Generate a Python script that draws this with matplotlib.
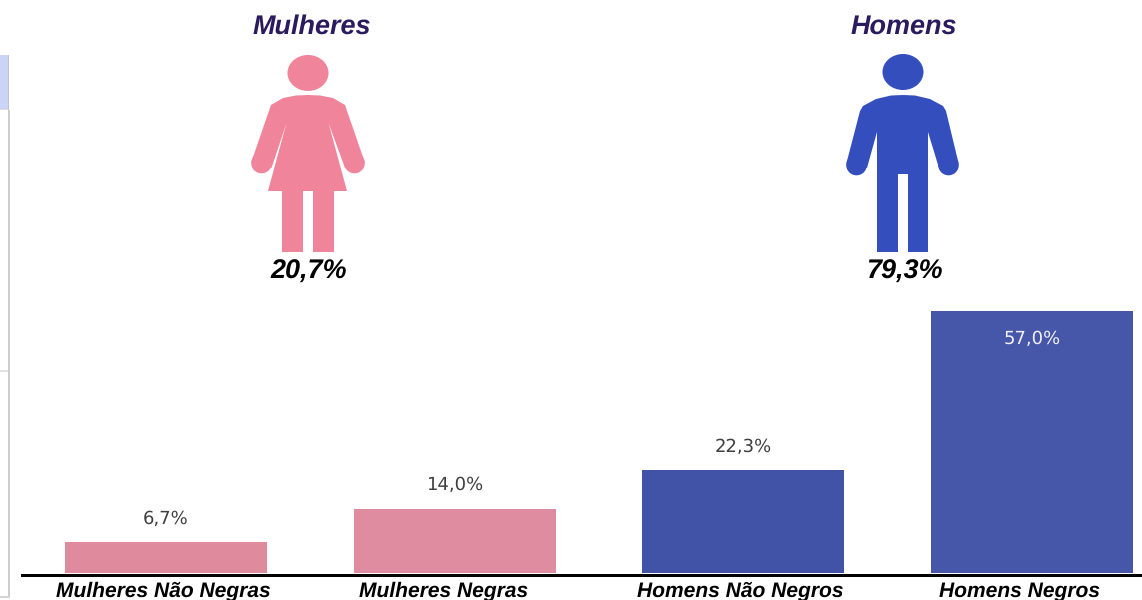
import matplotlib.pyplot as plt
from matplotlib.patches import Ellipse, Polygon, Rectangle, Circle

plt.rcParams['font.family'] = ['Liberation Sans', 'DejaVu Sans']
plt.rcParams['text.hinting'] = 'none'
plt.rcParams['text.hinting_factor'] = 1

categorias = ['Mulheres Não Negras', 'Mulheres Negras', 'Homens Não Negros', 'Homens Negros']
valores = [6.7, 14.0, 22.3, 57.0]
cores_barras = ['#E08A9E', '#DF8CA1', '#4153A6', '#4656A9']
cores_rotulos = ['#404040', '#404040', '#404040', '#F0F0F5']

grupos = ['Mulheres', 'Homens']
totais = ['20,7%', '79,3%']

ROSA = '#F0849A'
AZUL = '#344EBE'
TITULO = '#2A1A5E'

fig = plt.figure(figsize=(11.42, 6), dpi=100)

# camada de fundo em pixels: icones, textos soltos e o painel cortado a esquerda
fundo = fig.add_axes([0, 0, 1, 1])
fundo.set_xlim(0, 1142)
fundo.set_ylim(600, 0)
fundo.axis('off')

fundo.add_patch(Rectangle((0, 55), 8, 55, color='#CBD3F7', lw=0))
fundo.add_patch(Rectangle((7.5, 55), 1.5, 55, color='#C4C4C8', lw=0))
fundo.add_patch(Rectangle((8, 110), 2, 487, color='#CDCDCD', lw=0))
fundo.add_patch(Rectangle((0, 109), 8, 1, color='#DDDDDD', lw=0))
fundo.add_patch(Rectangle((0, 370), 8, 1.5, color='#E2E2E2', lw=0))
fundo.add_patch(Rectangle((0, 596), 10, 1.5, color='#D5D5D5', lw=0))

# mulher
mulher = [(308, 95), (320, 95.5), (333, 98), (345, 105), (364, 160), (364.5, 163), (345, 168),
          (328.5, 123), (347, 191), (334, 191), (334, 252), (313, 252), (313, 191),
          (303, 191), (303, 252), (282, 252), (282, 191), (268, 191), (286.5, 123),
          (271.5, 168), (251.5, 163), (252, 160), (271, 105), (283, 98), (296, 95.5)]
fundo.add_patch(Ellipse((308, 73), 41, 36, color=ROSA, lw=0))
fundo.add_patch(Polygon(mulher, closed=True, color=ROSA, lw=0))
fundo.add_patch(Circle((261.5, 163), 10.3, color=ROSA, lw=0))
fundo.add_patch(Circle((354.5, 163), 10.3, color=ROSA, lw=0))

# homem
homem = [(903, 95), (915, 95.5), (930, 99), (943, 106), (946, 111), (958.5, 163), (939, 168),
         (928, 132), (928, 252), (908, 252), (908, 174), (898, 174), (898, 252),
         (877, 252), (877, 132), (867, 168), (846.5, 163), (860, 111), (863, 106),
         (876, 99), (891, 95.5)]
fundo.add_patch(Ellipse((903, 72), 41, 36, color=AZUL, lw=0))
fundo.add_patch(Polygon(homem, closed=True, color=AZUL, lw=0))
fundo.add_patch(Circle((856.5, 165), 10.3, color=AZUL, lw=0))
fundo.add_patch(Circle((948.5, 165), 10.3, color=AZUL, lw=0))

for x, grupo in zip([312, 904], grupos):
    fundo.text(x, 27, grupo, ha='center', va='center', fontsize=19.3,
               fontweight='bold', fontstyle='italic', color=TITULO)
for x, total in zip([309, 904], totais):
    fundo.text(x, 272, total, ha='center', va='center', fontsize=19.3,
               fontweight='bold', fontstyle='italic', color='black')

# barras
ax = fig.add_axes([0, 27 / 600, 1, 573 / 600])
ax.patch.set_alpha(0)
posicoes = range(len(valores))
ax.bar(posicoes, valores, width=0.70, color=cores_barras, linewidth=0)
ax.set_xlim(-0.575, 3.381)
ax.set_ylim(0, 573 / 4.6)
ax.axis('off')

for i, v in enumerate(valores):
    rotulo = f'{v:.1f}%'.replace('.', ',')
    # a maior barra leva o rotulo por dentro
    y = v - 6.05 if v == max(valores) else v + 5.15
    ax.text(i, y, rotulo, ha='center', va='center', fontsize=13,
            family='DejaVu Sans', color=cores_rotulos[i])

# linha de base e nomes das categorias (nao ficam centrados nas barras)
fundo.set_zorder(3)
fundo.add_patch(Rectangle((21, 574), 1121, 3, color='black', lw=0))
for x, nome in zip([163.5, 443.5, 740.5, 1020], categorias):
    fundo.text(x, 591, nome, ha='center', va='center', fontsize=15.2,
               fontweight='bold', fontstyle='italic', color='black')

fig.savefig('out.png', dpi=100)
